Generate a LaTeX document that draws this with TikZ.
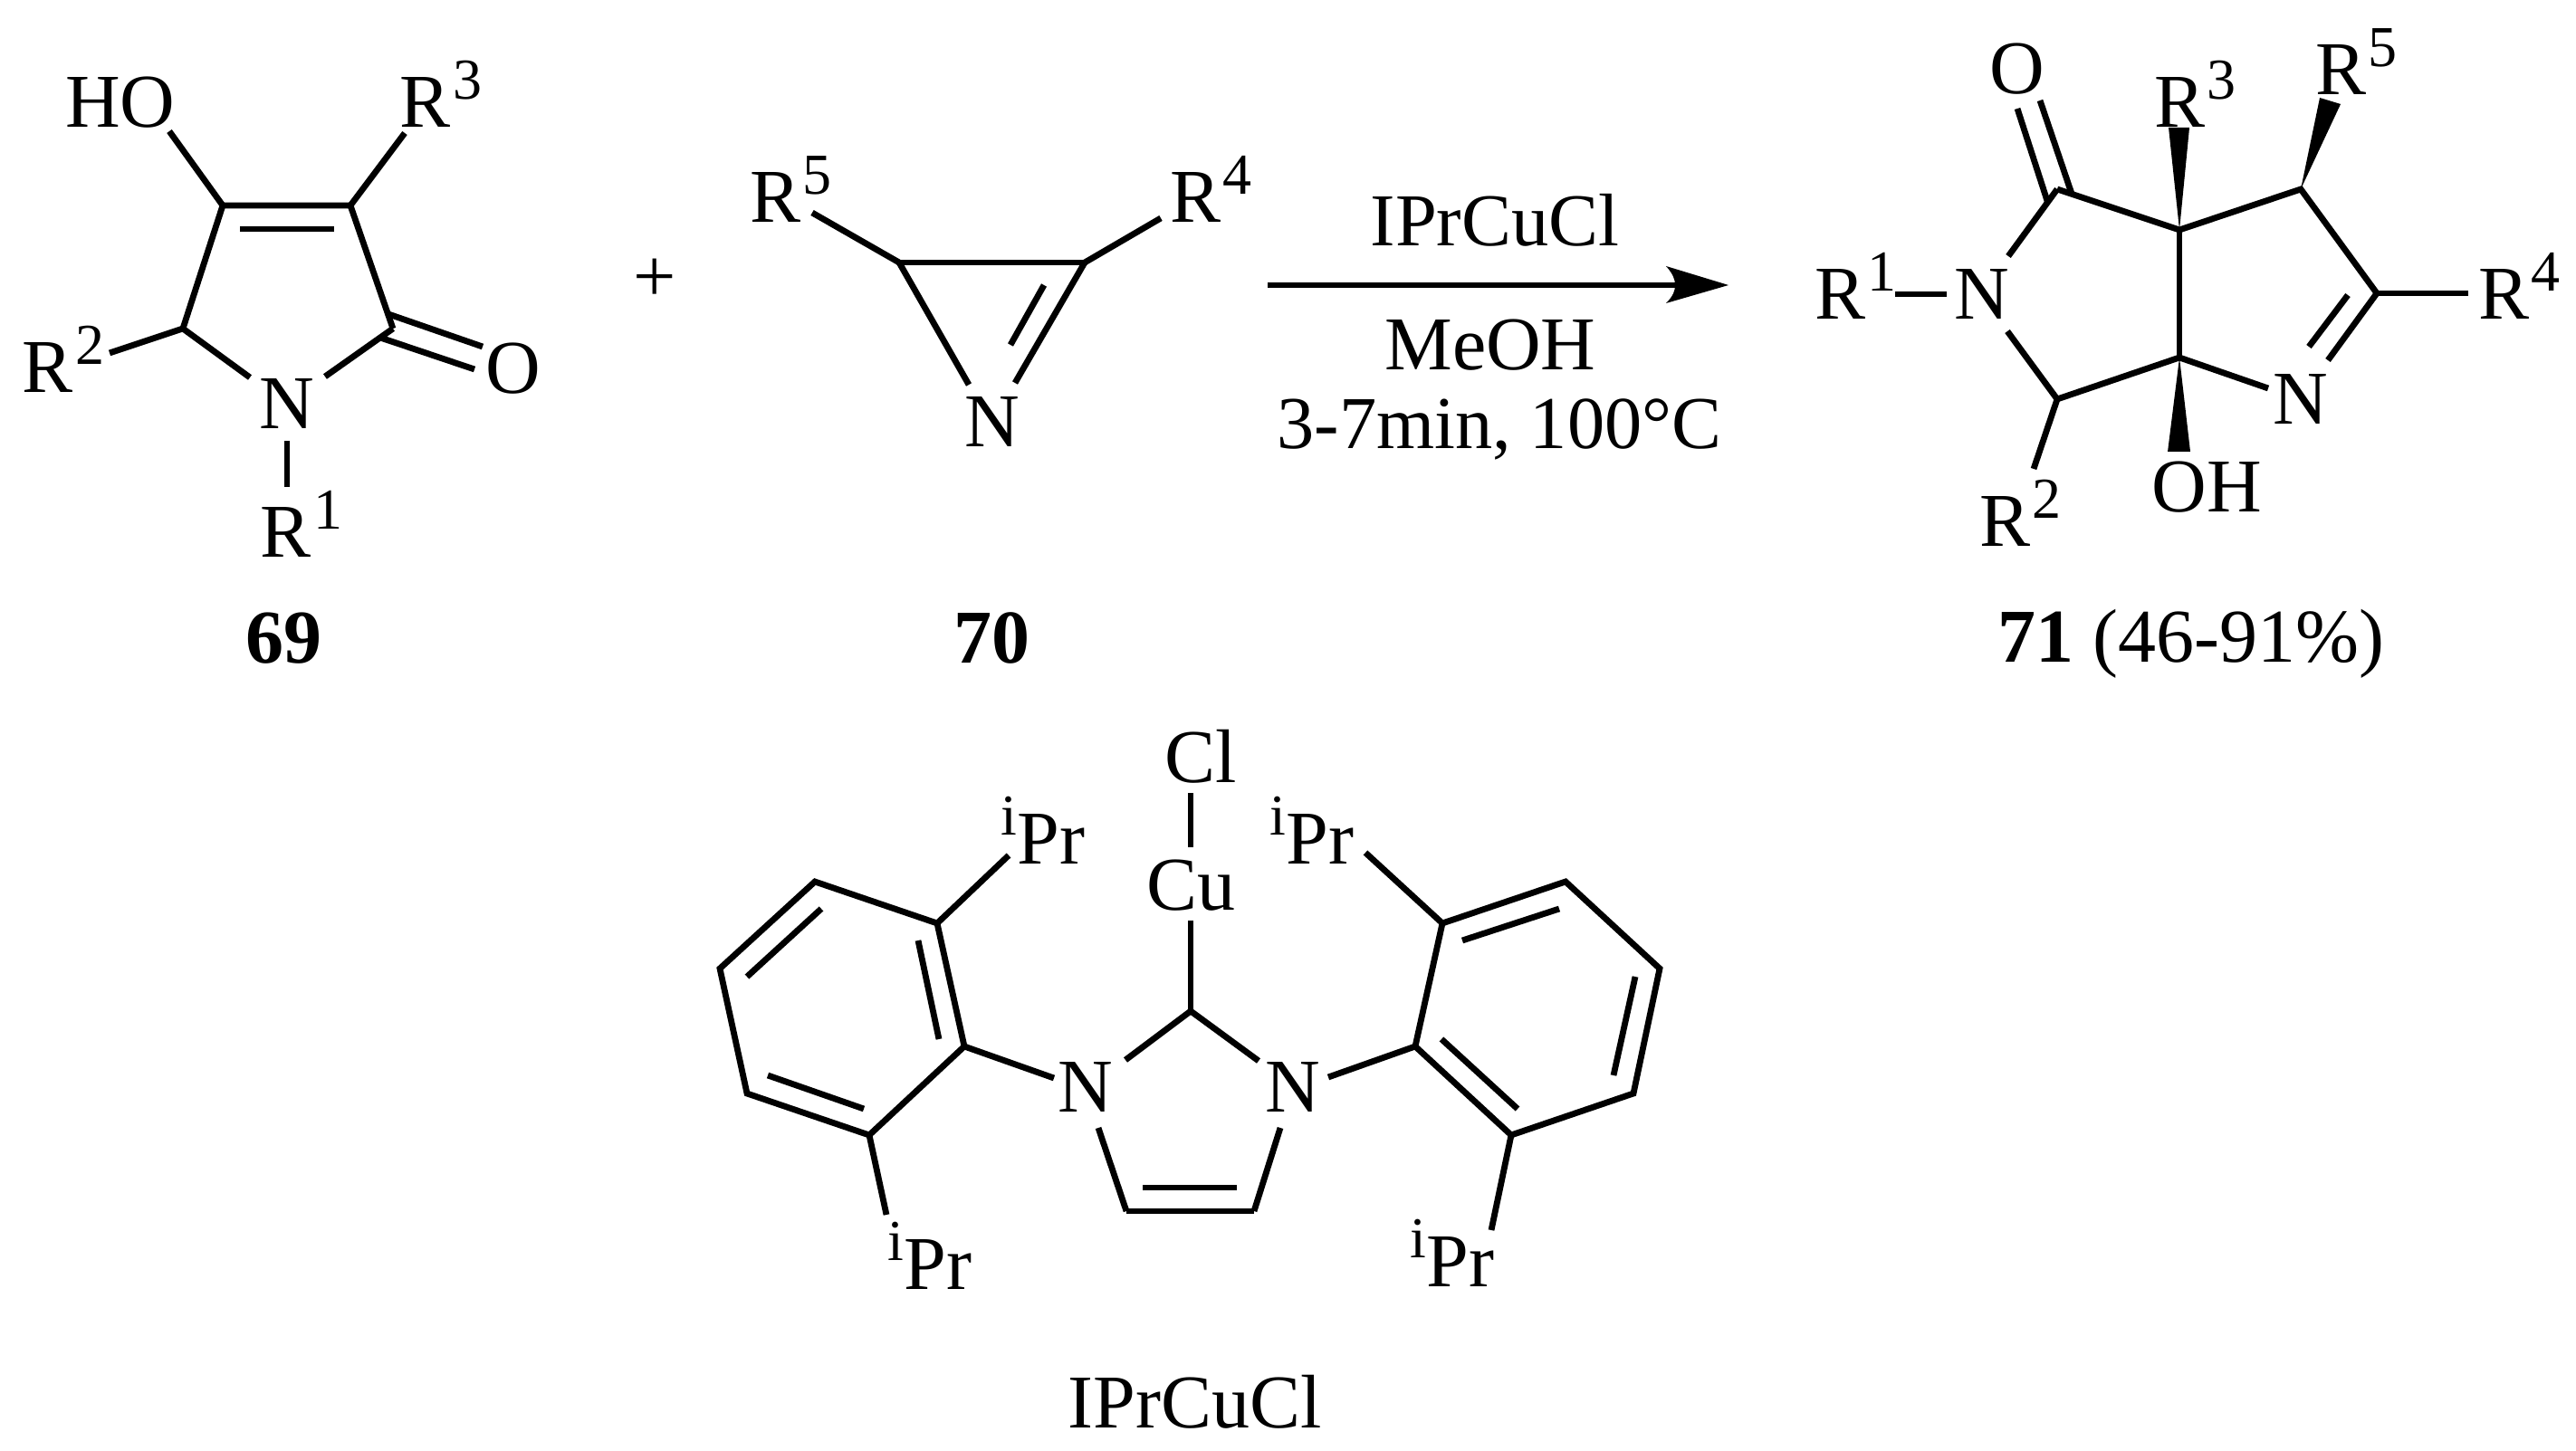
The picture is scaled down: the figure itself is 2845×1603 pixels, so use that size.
\documentclass[tikz,border=0pt]{standalone}
\usepackage{fontspec}
\setmainfont{Liberation Serif}
\newcommand{\supr}[2]{#1\rlap{\kern0.6pt\smash{\raisebox{7.8pt}{\fontsize{16}{16}\selectfont #2}}}}
\newcommand{\ipr}{\llap{\smash{\raisebox{8pt}{\fontsize{16}{16}\selectfont i}}}Pr}
\tikzset{
  atom/.style={inner sep=1.6pt,font=\fontsize{21}{25}\selectfont},
  bond/.style={line width=1.7pt,line cap=butt,line join=miter},
  txt/.style={inner sep=0pt,font=\fontsize{21}{25}\selectfont,align=center},
  cond/.style={inner sep=0pt,font=\fontsize{20.6}{25}\selectfont,align=center}
}
\begin{document}
\begin{tikzpicture}[x=0.25pt,y=-0.25pt]
\useasboundingbox[fill=white] (0,0) rectangle (2845,1603);
% ---- 69
\coordinate (a4) at (246,227);
\coordinate (a3) at (387,227);
\coordinate (a2) at (434,363);
\coordinate (a5) at (202,363);
\coordinate (a3i) at (369,253);
\coordinate (a4i) at (265,253);
\coordinate (a2u) at (429,347);
\coordinate (a2d) at (420,373);
\node[atom] (aN) at (317,446) {N};
\node[atom] (aHO) at (163,113) {\llap{H}O};
\node[atom] (aR3) at (470,113) {\supr{R}{3}};
\node[atom] (aR2) at (53,406) {\supr{R}{2}};
\node[atom] (aR1) at (316,588) {\supr{R}{1}};
\node[atom] (aO) at (567,407) {O};
\node[txt,font=\fontsize{21}{25}\selectfont\bfseries] (lab69) at (313,705) {69};
\draw[bond] (a5) -- (a4) -- (a3) -- (a2);
\draw[bond] (a4i) -- (a3i);
\draw[bond] (a4) -- ([shift={(24,32)}]aHO.center);
\draw[bond] (a3) -- ([shift={(-23,34)}]aR3.center);
\draw[bond] (a5) -- ([shift={(68,-16)}]aR2.center);
\draw[bond] (a5) -- ([shift={(-41,-29)}]aN.center);
\draw[bond] (a2) -- ([shift={(42,-30)}]aN.center);
\draw[bond] ([shift={(0,41)}]aN.center) -- ([shift={(1,-50)}]aR1.center);
\draw[bond] (a2u) -- ([shift={(-34,-24)}]aO.center);
\draw[bond] (a2d) -- ([shift={(-43,1)}]aO.center);
\node[txt] (plus) at (723,310) {+};
% ---- 70
\coordinate (b5) at (993,290);
\coordinate (b4) at (1198,290);
\coordinate (bi1) at (1116,381);
\coordinate (bi2) at (1153,315);
\node[atom] (bN) at (1096,466) {N};
\node[atom] (bR5) at (856,218) {\supr{R}{5}};
\node[atom] (bR4) at (1320,218) {\supr{R}{4}};
\node[txt,font=\fontsize{21}{25}\selectfont\bfseries] (lab70) at (1095,705) {70};
\draw[bond] (b5) -- (b4);
\draw[bond] (b5) -- ([shift={(-26,-41)}]bN.center);
\draw[bond] (b4) -- ([shift={(25,-43)}]bN.center);
\draw[bond] (bi1) -- (bi2);
\draw[bond] (b5) -- ([shift={(41,17)}]bR5.center);
\draw[bond] (b4) -- ([shift={(-38,23)}]bR4.center);
% ---- arrow
\coordinate (arS) at (1400,315);
\coordinate (arE) at (1852,315);
\coordinate (arT) at (1909,315);
\coordinate (arB) at (1840,294);
\coordinate (arC) at (1840,335);
\draw[bond] (arS) -- (arE);
\fill (arT) -- (arB) .. controls (1848,303) and (1850,309) .. (1850,315)
      .. controls (1850,321) and (1848,327) .. (arC) -- cycle;
\node[cond] (cat) at (1651,243) {IPrCuCl};
\node[txt] (sol) at (1646,381) {MeOH};
\node[cond] (condi) at (1656,474) {3-7min, 100°C};
% ---- 71
\coordinate (c3a) at (2407,254);
\coordinate (c6a) at (2407,395);
\coordinate (cCO) at (2272,209);
\coordinate (cCR2) at (2272,441);
\coordinate (cCR5) at (2541,209);
\coordinate (cCR4) at (2625,324);
\node[atom] (cN1) at (2189,325) {N};
\node[atom] (cN2) at (2541,441) {N};
\node[atom] (cO) at (2228,76) {O};
\node[atom] (cR3) at (2407,113) {\supr{R}{3}};
\node[atom] (cR5) at (2585,77) {\supr{R}{5}};
\node[atom] (cR4) at (2765,325) {\supr{R}{4}};
\node[atom] (cR1) at (2032,325) {\supr{R}{1}};
\node[atom] (cR2) at (2214,576) {\supr{R}{2}};
\node[atom] (cOH) at (2407,538) {O\rlap{H}};
\node[txt] (lab71) at (2420,711) {\textbf{71} (46-91\%)};
\draw[bond] (cCO) -- (c3a) -- (cCR5) -- (cCR4);
\draw[bond] (c3a) -- (c6a);
\draw[bond] (cCR2) -- (c6a);
\draw[bond] (c6a) -- ([shift={(-36,-12)}]cN2.center);
\draw[bond] (cCO) -- ([shift={(29,-42)}]cN1.center);
\draw[bond] (cCR2) -- ([shift={(28,41)}]cN1.center);
\draw[bond] ([shift={(-39,0)}]cN1.center) -- ([shift={(61,0)}]cR1.center);
\draw[bond] (cCR2) -- ([shift={(32,-58)}]cR2.center);
\draw[bond] (cCR4) -- ([shift={(-39,-1)}]cR4.center);
\draw[bond] (cCR4) -- ([shift={(30,-43)}]cN2.center);
\coordinate (cdi1) at (2593,326);
\coordinate (cdi2) at (2550,383);
\draw[bond] (cdi1) -- (cdi2);
\coordinate (co2) at (2261,222);
\coordinate (co4) at (2288,214);
\draw[bond] ([shift={(0,44)}]cO.center) -- (co2);
\draw[bond] ([shift={(25,35)}]cO.center) -- (co4);
\fill (c3a) -- ([shift={(-12,28)}]cR3.center) -- ([shift={(11,28)}]cR3.center) -- cycle;
\fill (cCR5) -- ([shift={(-23,31)}]cR5.center) -- ([shift={(0,38)}]cR5.center) -- cycle;
\fill (c6a) -- ([shift={(-13,-39)}]cOH.center) -- ([shift={(12,-39)}]cOH.center) -- cycle;
% ---- IPrCuCl
\coordinate (dC) at (1315,1117);
\coordinate (dL) at (1244,1338);
\coordinate (dR) at (1385,1338);
\coordinate (dLi) at (1262,1312);
\coordinate (dRi) at (1366,1312);
\node[atom] (dCl) at (1326,836) {Cl};
\node[atom] (dCu) at (1315,978) {Cu};
\node[atom] (dNL) at (1199,1201) {N};
\node[atom] (dNR) at (1428,1201) {N};
\node[atom] (dP1) at (1161,927) {\ipr};
\node[atom] (dP2) at (1036,1397) {\ipr};
\node[atom] (dP3) at (1458,927) {\ipr};
\node[atom] (dP4) at (1613,1394) {\ipr};
\node[txt] (labI) at (1320,1549) {IPrCuCl};
\draw[bond] ([shift={(-11,40)}]dCl.center) -- ([shift={(0,-42)}]dCu.center);
\draw[bond] ([shift={(0,39)}]dCu.center) -- (dC);
\draw[bond] (dC) -- ([shift={(44,-30)}]dNL.center);
\draw[bond] (dC) -- ([shift={(-38,-29)}]dNR.center);
\draw[bond] ([shift={(14,45)}]dNL.center) -- (dL);
\draw[bond] ([shift={(-14,45)}]dNR.center) -- (dR);
\draw[bond] (dL) -- (dR);
\draw[bond] (dLi) -- (dRi);
\coordinate (la) at (1065,1156);
\coordinate (lb) at (1035,1020);
\coordinate (lc) at (900,974);
\coordinate (ld) at (795,1070);
\coordinate (le) at (825,1208);
\coordinate (lf) at (960,1254);
\draw[bond] (la) -- (lb) -- (lc) -- (ld) -- (le) -- (lf) -- cycle;
\coordinate (li1) at (1014,1039);
\coordinate (li2) at (1037,1148);
\coordinate (li3) at (907,1004);
\coordinate (li4) at (825,1079);
\coordinate (li5) at (848,1188);
\coordinate (li6) at (954,1225);
\draw[bond] (li1) -- (li2);
\draw[bond] (li3) -- (li4);
\draw[bond] (li5) -- (li6);
\draw[bond] (la) -- ([shift={(-35,-10)}]dNL.center);
\draw[bond] (lb) -- ([shift={(-47,18)}]dP1.center);
\draw[bond] (lf) -- ([shift={(-57,-55)}]dP2.center);
\coordinate (ra) at (1563,1156);
\coordinate (rb) at (1593,1020);
\coordinate (rc) at (1729,974);
\coordinate (rd) at (1833,1070);
\coordinate (re) at (1804,1208);
\coordinate (rf) at (1669,1254);
\draw[bond] (ra) -- (rb) -- (rc) -- (rd) -- (re) -- (rf) -- cycle;
\coordinate (ri1) at (1615,1039);
\coordinate (ri2) at (1722,1004);
\coordinate (ri3) at (1806,1079);
\coordinate (ri4) at (1782,1188);
\coordinate (ri5) at (1676,1225);
\coordinate (ri6) at (1592,1148);
\draw[bond] (ri1) -- (ri2);
\draw[bond] (ri3) -- (ri4);
\draw[bond] (ri5) -- (ri6);
\draw[bond] (ra) -- ([shift={(39,-11)}]dNR.center);
\draw[bond] (rb) -- ([shift={(50,15)}]dP3.center);
\draw[bond] (rf) -- ([shift={(34,-35)}]dP4.center);
\end{tikzpicture}
\end{document}
